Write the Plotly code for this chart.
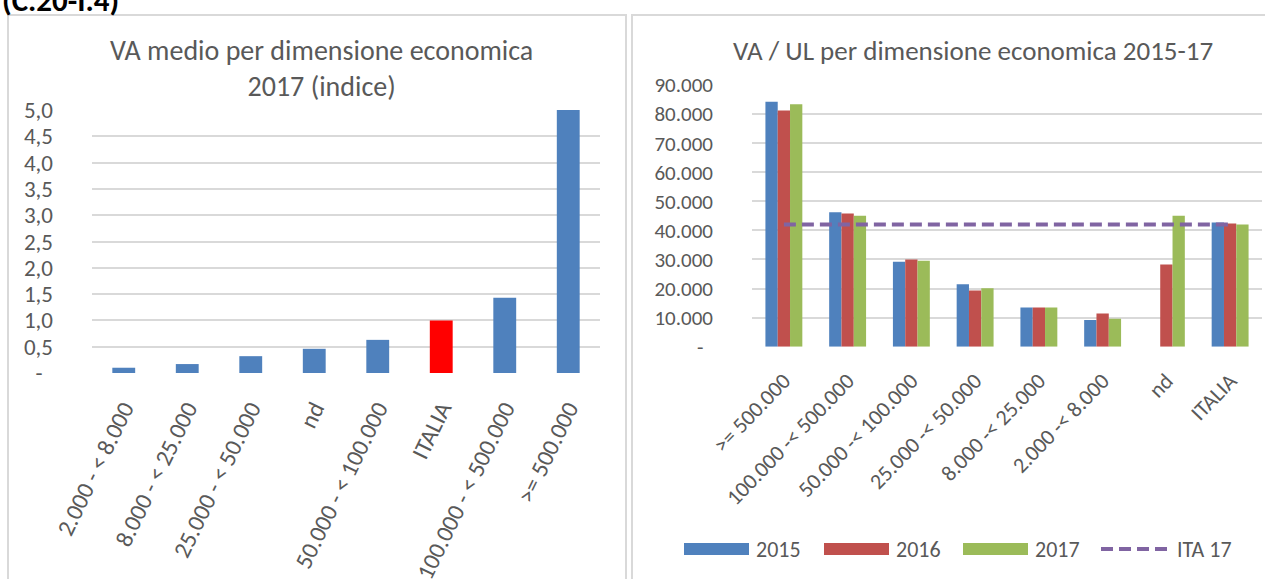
import plotly.graph_objects as go

# ---------------- data ----------------
left_categories = ["2.000 - < 8.000", "8.000 - < 25.000", "25.000 - < 50.000", "nd",
                   "50.000 - < 100.000", "ITALIA", "100.000 - < 500.000", ">= 500.000"]
left_values = [0.10, 0.17, 0.32, 0.46, 0.63, 1.0, 1.43, 5.0]
left_highlight = "ITALIA"

right_categories = [">= 500.000", "100.000 -< 500.000", "50.000 -< 100.000", "25.000 -< 50.000",
                    "8.000 -< 25.000", "2.000 -< 8.000", "nd", "ITALIA"]
va_2015 = [84200, 46200, 29200, 21500, 13500, 9200, None, 42700]
va_2016 = [81200, 45800, 30000, 19300, 13500, 11400, 28300, 42400]
va_2017 = [83400, 45000, 29600, 20100, 13500, 9600, 45000, 42000]
ita_17 = [42000] * len(right_categories)

left_ticks = [0, 0.5, 1.0, 1.5, 2.0, 2.5, 3.0, 3.5, 4.0, 4.5, 5.0]
left_ticktext = ["-\u00a0\u00a0", "0,5", "1,0", "1,5", "2,0", "2,5", "3,0", "3,5", "4,0", "4,5", "5,0"]
right_ticks = [0, 10000, 20000, 30000, 40000, 50000, 60000, 70000, 80000, 90000]
right_ticktext = ["-\u00a0\u00a0", "10.000", "20.000", "30.000", "40.000", "50.000",
                  "60.000", "70.000", "80.000", "90.000"]

# ---------------- style ----------------
W, H = 1265, 579
FONT = "Calibri, Carlito, Lato, sans-serif"
TXT = "#595959"
GRID = "#D9D9D9"
BLUE, RED, GREEN, PURPLE, BRIGHT_RED = "#4F81BD", "#C0504D", "#9BBB59", "#8064A2", "#FF0000"


def px_x(p):
    return p / W


def px_y(p):
    return 1 - p / H


fig = go.Figure()

fig.add_trace(go.Bar(
    x=left_categories, y=left_values, xaxis="x", yaxis="y",
    marker=dict(color=[BRIGHT_RED if c == left_highlight else BLUE for c in left_categories],
                line=dict(width=0)),
    width=0.36, showlegend=False, hoverinfo="x+y"))

bar_w = 0.193
for vals, col, name, off in [(va_2015, BLUE, "2015", -1.5 * bar_w),
                             (va_2016, RED, "2016", -0.5 * bar_w),
                             (va_2017, GREEN, "2017", 0.5 * bar_w)]:
    fig.add_trace(go.Bar(x=right_categories, y=vals, name=name, xaxis="x2", yaxis="y2",
                         marker=dict(color=col, line=dict(width=0)),
                         width=bar_w, offset=off, showlegend=False))

fig.add_trace(go.Scatter(x=right_categories, y=ita_17, name="ITA 17", xaxis="x2", yaxis="y2",
                         mode="lines", line=dict(color=PURPLE, width=4, dash="12px,6px"),
                         showlegend=False))

axis_common = dict(showline=False, zeroline=False, ticks="", automargin=False)

fig.update_layout(
    template="none",
    width=W, height=H, margin=dict(l=0, r=0, t=0, b=0, pad=0, autoexpand=False),
    paper_bgcolor="white", plot_bgcolor="white", barmode="overlay",
    font=dict(family=FONT, color=TXT), showlegend=False,
    xaxis=dict(domain=[px_x(92), px_x(600)], anchor="y", tickangle=-64,
               showgrid=False, type="category", ticklabelstandoff=16,
               tickfont=dict(family=FONT, size=24, color=TXT), **axis_common),
    yaxis=dict(domain=[px_y(373), px_y(110)], anchor="x", range=[0, 5.0001],
               tickvals=left_ticks, ticktext=left_ticktext, showgrid=True,
               gridcolor=GRID, gridwidth=1.5, ticklabelstandoff=38,
               tickfont=dict(family=FONT, size=23, color=TXT), **axis_common),
    xaxis2=dict(domain=[px_x(752), px_x(1262)], anchor="y2", tickangle=-46,
                showgrid=False, type="category", ticklabelstandoff=16,
                tickfont=dict(family=FONT, size=22, color=TXT), **axis_common),
    yaxis2=dict(domain=[px_y(346.7), px_y(85)], anchor="x2", range=[0, 90001],
                tickvals=right_ticks, ticktext=right_ticktext, showgrid=True,
                gridcolor=GRID, gridwidth=1.5, ticklabelstandoff=38,
                tickfont=dict(family=FONT, size=21, color=TXT), **axis_common),
)

# panel borders
shapes = [
    dict(type="rect", xref="paper", yref="paper", x0=px_x(8), x1=px_x(626),
         y0=px_y(600), y1=px_y(15), line=dict(color=GRID, width=2), layer="below"),
    dict(type="rect", xref="paper", yref="paper", x0=px_x(632), x1=px_x(1280),
         y0=px_y(600), y1=px_y(15), line=dict(color=GRID, width=2), layer="below"),
]

annotations = [
    dict(text="<b>(C.20-I.4)</b>", xref="paper", yref="paper", x=0, y=px_y(0),
         xanchor="left", yanchor="middle", showarrow=False,
         font=dict(family=FONT, size=31, color="#000000")),
    dict(text="VA medio per dimensione economica<br>2017 (indice)", xref="paper", yref="paper",
         x=px_x(322), y=px_y(68), xanchor="center", yanchor="middle", showarrow=False,
         font=dict(family=FONT, size=28, color=TXT)),
    dict(text="VA / UL per dimensione economica 2015-17", xref="paper", yref="paper",
         x=px_x(973), y=px_y(50), xanchor="center", yanchor="middle", showarrow=False,
         font=dict(family=FONT, size=27, color=TXT)),
]

# legend (drawn manually to reproduce the wide swatches)
legend_items = [("2015", BLUE, "bar", 684, 749), ("2016", RED, "bar", 824, 889),
                ("2017", GREEN, "bar", 963, 1028), ("ITA 17", PURPLE, "line", 1101, 1170)]
ly = 549
for label, col, kind, x0, x1 in legend_items:
    if kind == "bar":
        shapes.append(dict(type="rect", xref="paper", yref="paper", x0=px_x(x0), x1=px_x(x1),
                           y0=px_y(ly + 6), y1=px_y(ly - 6), fillcolor=col, line=dict(width=0)))
    else:
        shapes.append(dict(type="line", xref="paper", yref="paper", x0=px_x(x0), x1=px_x(x1),
                           y0=px_y(ly), y1=px_y(ly), line=dict(color=col, width=4, dash="12px,6px")))
    annotations.append(dict(text=label, xref="paper", yref="paper", x=px_x(x1 + 5), y=px_y(ly),
                            xanchor="left", yanchor="middle", showarrow=False,
                            font=dict(family=FONT, size=22, color=TXT)))

fig.update_layout(shapes=shapes, annotations=annotations)

fig.write_html("out.html", config={"displayModeBar": False},
               post_script="document.body.style.margin='0';document.body.style.overflow='hidden';")
